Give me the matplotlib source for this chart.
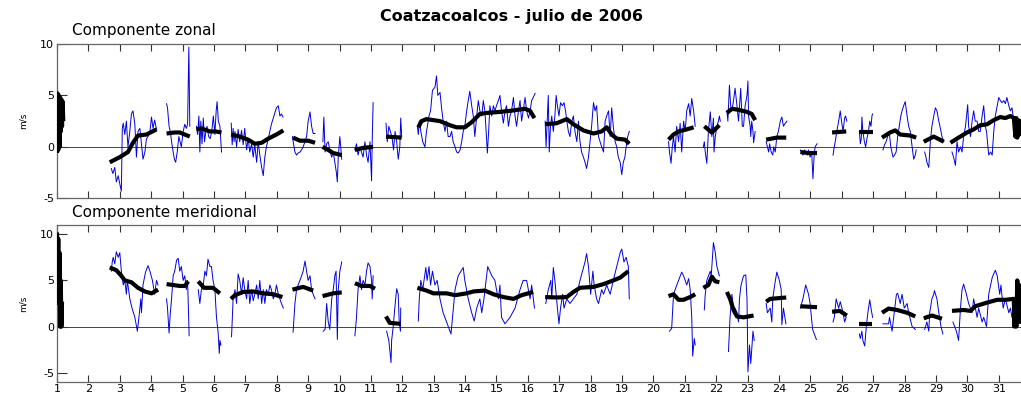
import matplotlib
matplotlib.use("Agg")
import matplotlib.pyplot as plt

plt.rcParams['font.family'] = ['DejaVu Sans']
plt.rcParams['axes.unicode_minus'] = False

title = "Coatzacoalcos - julio de 2006"
panel_titles = ["Componente zonal", "Componente meridional"]
day_ticks = list(range(1, 32))

# zonal component (u), hourly record, one list pair per uninterrupted stretch
u_days = [
    [2.73, 2.78, 2.84, 2.89, 2.95, 3.00, 3.05, 3.08, 3.11, 3.16, 3.21, 3.26, 3.32, 3.37, 3.42, 3.48, 3.53, 3.58, 3.64, 3.69, 3.74, 3.80, 3.85, 3.90, 3.96, 4.01, 4.06, 4.11, 4.17],
    [4.49, 4.52, 4.57, 4.61, 4.65, 4.70, 4.74, 4.78, 4.83, 4.88, 4.92, 4.96, 5.02, 5.07, 5.12, 5.16, 5.20, 5.23],
    [5.44, 5.48, 5.52, 5.55, 5.58, 5.62, 5.66, 5.70, 5.74, 5.78, 5.83, 5.88, 5.93, 5.98, 6.03, 6.07, 6.10, 6.14, 6.19, 6.24],
    [6.55, 6.58, 6.61, 6.64, 6.67, 6.72, 6.77, 6.82, 6.88, 6.93, 6.98, 7.04, 7.09, 7.14, 7.20, 7.25, 7.30, 7.36, 7.41, 7.46, 7.52, 7.57, 7.62, 7.67, 7.73, 7.78, 7.83, 7.89, 7.94, 7.99, 8.05, 8.10, 8.15, 8.20],
    [8.50, 8.54, 8.58, 8.63, 8.68, 8.74, 8.79, 8.84, 8.90, 8.95, 9.00, 9.06, 9.11, 9.16, 9.22],
    [9.47, 9.50, 9.54, 9.59, 9.64, 9.69, 9.75, 9.80, 9.85, 9.90, 9.93, 9.96, 10.01, 10.07],
    [10.49, 10.54, 10.59, 10.65, 10.70, 10.75, 10.81, 10.86, 10.91, 10.97, 11.02, 11.04, 11.07],
    [11.48, 11.52, 11.57, 11.62, 11.67, 11.72, 11.77, 11.82, 11.87, 11.92, 11.95, 11.98],
    [12.48, 12.51, 12.54, 12.59, 12.65, 12.72, 12.77, 12.85, 12.90, 12.96, 13.04, 13.09, 13.13, 13.20, 13.25, 13.30, 13.36, 13.41, 13.46, 13.52, 13.57, 13.62, 13.68, 13.73, 13.78, 13.84, 13.89, 13.94, 13.99, 14.05, 14.10, 14.15, 14.21, 14.26, 14.31, 14.37, 14.42, 14.47, 14.53, 14.58, 14.63, 14.67, 14.71, 14.75, 14.79, 14.85, 14.90, 14.95, 15.00, 15.06, 15.11, 15.16, 15.22, 15.27, 15.32, 15.38, 15.43, 15.48, 15.54, 15.59, 15.64, 15.70, 15.75, 15.80, 15.85, 15.91, 15.96, 16.02, 16.07, 16.12, 16.17, 16.23],
    [16.55, 16.58, 16.60, 16.65, 16.68, 16.72, 16.76, 16.81, 16.86, 16.90, 16.94, 16.99, 17.04, 17.10, 17.15, 17.20, 17.24, 17.29, 17.34, 17.40, 17.45, 17.50, 17.56, 17.61, 17.66, 17.71, 17.77, 17.82, 17.87, 17.93, 17.98, 18.03, 18.09, 18.14, 18.19, 18.25, 18.30, 18.35, 18.41, 18.46, 18.51, 18.57, 18.62, 18.67, 18.72, 18.78, 18.83, 18.88, 18.94, 18.99, 19.04, 19.09, 19.13, 19.18, 19.23],
    [20.48, 20.51, 20.56, 20.60, 20.64, 20.69, 20.74, 20.80, 20.85, 20.90, 20.96, 21.01, 21.06, 21.12, 21.17, 21.22, 21.28, 21.33],
    [21.59, 21.62, 21.65, 21.70, 21.75, 21.81, 21.84, 21.86, 21.91, 21.93, 21.97, 22.02, 22.07, 22.10, 22.13],
    [22.34, 22.37, 22.42, 22.46, 22.50, 22.55, 22.60, 22.66, 22.71, 22.78, 22.83, 22.87, 22.92, 22.98, 23.01, 23.03, 23.08, 23.10, 23.13, 23.17, 23.19, 23.24],
    [23.59, 23.63, 23.67, 23.70, 23.75, 23.80, 23.83, 23.88, 23.93, 23.98, 24.04, 24.09, 24.14, 24.20, 24.25],
    [24.68, 24.72, 24.76, 24.81, 24.85, 24.90, 24.94, 24.99, 25.04, 25.08, 25.12, 25.15, 25.21],
    [25.72, 25.76, 25.79, 25.84, 25.90, 25.95, 25.99, 26.04, 26.09, 26.12, 26.16],
    [26.56, 26.59, 26.62, 26.64, 26.67, 26.72, 26.76, 26.80, 26.85, 26.89, 26.93, 26.96, 26.98],
    [27.31, 27.36, 27.41, 27.46, 27.51, 27.56, 27.63, 27.68, 27.73, 27.78, 27.83, 27.88, 27.92, 27.97, 28.02, 28.08, 28.13, 28.18, 28.24, 28.29, 28.34, 28.37],
    [28.64, 28.68, 28.71, 28.77, 28.80, 28.82, 28.87, 28.93, 28.98, 29.03, 29.09, 29.14, 29.19, 29.25],
    [29.51, 29.56, 29.62, 29.67, 29.72, 29.78, 29.83, 29.88, 29.94, 30.01, 30.04, 30.10, 30.15, 30.20, 30.25, 30.31, 30.36, 30.41, 30.47, 30.52, 30.57, 30.61, 30.68, 30.74, 30.79, 30.84, 30.89, 30.95, 31.00, 31.05, 31.10, 31.16, 31.21, 31.26, 31.32, 31.37, 31.42, 31.48, 31.53],
]
u_vals = [
    [-2.1, -2.6, -2.0, -3.4, -2.8, -3.6, -4.3, 1.8, 2.3, 1.2, 2.5, 0.0, 1.5, 3.2, 3.5, 2.2, -1.0, 1.5, 1.8, 0.3, -1.2, -0.5, 0.8, 1.0, 1.5, 2.9, 1.8, 2.6, 1.7],
    [4.2, 3.8, 2.0, 1.5, 0.5, -0.5, -1.2, -1.5, -0.5, 1.0, 0.5, 0.0, 1.5, 2.2, 1.8, 2.2, 9.7, 2.0],
    [2.0, 1.2, 3.0, -0.5, 2.5, 0.3, 2.8, 0.5, 1.5, 2.0, 1.0, 0.8, 1.5, 3.0, 1.2, 3.5, 4.4, 2.5, 2.0, -0.5],
    [2.3, 0.2, 1.8, 0.5, 1.5, 0.0, 1.7, 0.5, 1.6, 0.2, 1.8, -0.3, 0.8, -0.5, 0.3, -1.0, 0.2, -1.5, 0.5, -0.8, -2.0, -2.8, -1.0, 0.0, 0.8, 1.5, 2.2, 2.8, 3.3, 3.8, 4.0, 3.0, 3.2, 2.9],
    [1.0, 0.2, -0.5, -0.8, -0.6, -0.5, -0.3, 0.0, 0.5, 1.0, 2.5, 3.4, 2.0, 1.3, 1.3],
    [0.5, 2.9, -0.5, 0.3, 0.5, -0.3, -1.0, -0.5, -1.5, -2.5, -3.4, -1.0, 1.0, -1.2],
    [-0.3, 0.3, -0.8, 0.0, -0.5, -1.0, 0.5, -0.8, -1.5, 0.5, -3.3, 0.5, 4.3],
    [2.3, 0.5, 2.0, 1.5, 1.0, -0.3, 1.5, 0.5, -1.2, 0.0, 2.8, 1.0],
    [2.0, 1.2, 2.5, 1.5, 0.5, 0.0, 1.5, 3.0, 3.5, 5.5, 5.8, 6.9, 5.0, 5.3, 3.8, 2.5, 1.5, 2.5, 1.0, 1.0, 1.5, 0.5, 0.0, -0.5, -0.6, -0.3, 0.5, 1.5, 2.0, 3.5, 4.5, 5.4, 4.0, 3.0, 1.0, 3.0, 4.5, 3.5, 3.0, 4.5, 3.5, 1.5, -0.6, 1.5, 4.0, 3.0, 4.0, 3.5, 4.0, 4.5, 5.0, 3.5, 2.3, 3.5, 4.0, 2.0, 3.0, 3.5, 4.8, 3.0, 2.0, 3.5, 4.5, 2.5, 3.5, 4.8, 3.5, 2.8, 3.5, 4.5, 4.8, 5.2],
    [2.5, 0.0, 1.5, 5.0, -0.5, 2.0, 3.0, 1.5, 3.0, 5.0, 4.0, 3.0, 4.3, 4.0, 4.3, 3.5, 2.5, 1.5, 1.0, 2.5, 3.0, 1.5, 0.5, 2.5, 0.5, -0.5, -1.0, -1.5, -2.1, -1.0, 0.5, 2.0, 4.3, 3.5, 4.0, 1.0, 0.5, 0.0, -0.5, 2.5, 3.0, 3.5, 1.0, 3.8, 2.0, 0.5, 0.0, -1.0, -1.5, -2.7, -1.5, -1.0, 0.0, 1.0, 1.5],
    [0.5, -0.5, -1.6, 0.0, 1.0, -0.5, 2.0, 0.5, 2.3, -0.5, 2.5, 1.5, 3.5, 4.2, 3.0, 4.7, 3.5, 2.0],
    [0.0, 0.5, -0.5, -1.6, 1.5, 3.4, 2.0, 1.0, 2.8, -0.5, 1.0, 2.0, 2.5, 3.0, 2.5],
    [3.5, 2.5, 6.0, 4.0, 3.5, 4.5, 5.7, 4.0, 2.5, 5.7, 2.0, 2.0, 4.0, 5.0, 6.4, 3.0, 2.0, 1.0, 2.5, 1.5, 0.4, 1.5],
    [0.5, 0.0, -0.5, 0.3, -0.5, -0.8, 0.0, -0.5, 1.0, 1.5, 2.5, 2.9, 2.0, 2.3, 2.5],
    [-0.3, -0.5, -0.8, -0.3, -0.5, -0.8, -0.3, -1.0, -0.5, -3.1, -0.8, 0.0, 0.3],
    [-0.8, 0.0, 0.5, 1.5, 2.5, 3.5, 2.5, 1.5, 2.8, 3.0, 2.5],
    [1.5, 0.3, 0.8, 2.9, 1.5, 0.5, 0.0, 0.8, 1.5, 2.5, 2.0, 3.0, 3.2],
    [-0.3, 0.2, 0.5, 1.0, 1.5, 0.0, -1.0, -0.8, -0.5, 1.0, 2.0, 3.0, 3.5, 4.0, 4.4, 3.0, 2.0, 1.5, 0.0, -1.2, -0.8, -0.3],
    [-0.5, -1.0, -1.5, -2.0, -0.5, 0.5, 2.0, 3.0, 3.8, 3.5, 2.5, 1.8, 1.0, 0.5],
    [-0.5, -1.0, -1.8, 0.5, -0.5, 0.0, -0.5, 1.0, 2.0, 4.1, 2.0, 1.0, 2.5, 3.5, 2.5, 2.5, 1.5, 1.5, 3.0, 4.0, 2.0, 1.5, -0.8, -0.5, -0.8, 1.5, 3.0, 4.0, 4.8, 4.5, 4.3, 4.5, 4.2, 4.8, 4.0, 3.5, 3.8, 2.5, 1.5],
]

# zonal component, smoothed
u_smooth_days = [
    [1.00, 1.02, 1.04, 1.06, 1.08, 1.10, 1.12, 1.14, 1.16, 1.18, 1.20],
    [2.68, 3.00, 3.26, 3.42, 3.58, 3.85, 4.17],
    [4.49, 4.75, 4.91, 5.07, 5.23],
    [5.44, 5.60, 5.87, 6.05, 6.24],
    [6.55, 6.82, 7.09, 7.30, 7.52, 7.73, 7.99, 8.21],
    [8.52, 8.74, 9.00, 9.22],
    [9.46, 9.64, 9.80, 10.07],
    [10.49, 10.75, 11.07],
    [11.48, 11.98],
    [12.51, 12.61, 12.77, 13.20, 13.52, 13.73, 13.99, 14.21, 14.47, 14.69, 15.11, 15.43, 15.91, 16.07, 16.21],
    [16.55, 16.92, 17.24, 17.45, 17.77, 18.09, 18.35, 18.51, 18.67, 18.83, 19.10, 19.23],
    [20.48, 20.64, 20.80, 21.06, 21.28],
    [21.62, 21.86, 22.10],
    [22.34, 22.50, 22.71, 22.98, 23.13, 23.24],
    [23.59, 23.93, 24.23],
    [24.68, 24.94, 25.21],
    [25.69, 26.14],
    [26.54, 26.98],
    [27.28, 27.54, 27.70, 27.86, 28.18, 28.37],
    [28.61, 28.93, 29.25],
    [29.46, 29.72, 29.99, 30.20, 30.41, 30.63, 30.84, 31.05, 31.21, 31.37, 31.48, 31.53, 31.56, 31.59, 31.62, 31.65, 31.68, 31.72],
]
u_smooth_vals = [
    [-0.6, 5.2, -0.3, 5.0, 0.0, 4.8, 1.5, 4.6, 2.0, 4.4, 2.5],
    [-1.5, -1.0, -0.5, 0.4, 1.1, 1.2, 1.7],
    [1.3, 1.4, 1.4, 1.2, 1.0],
    [1.7, 1.8, 1.5, 1.5, 1.4],
    [1.2, 1.0, 0.7, 0.3, 0.4, 0.8, 1.2, 1.6],
    [0.9, 0.6, 0.6, 0.4],
    [0.0, -0.3, -0.6, -0.8],
    [-0.3, -0.1, 0.0],
    [1.0, 0.9],
    [1.9, 2.5, 2.7, 2.5, 2.1, 1.9, 1.9, 2.4, 3.2, 3.3, 3.4, 3.5, 3.7, 3.5, 2.8],
    [2.2, 2.3, 2.7, 2.2, 1.6, 1.3, 1.5, 1.9, 1.2, 0.8, 0.7, 0.3],
    [0.7, 1.2, 1.5, 1.7, 1.9],
    [2.0, 1.4, 2.1],
    [3.3, 3.7, 3.6, 3.4, 3.2, 2.6],
    [0.7, 0.9, 0.9],
    [-0.5, -0.6, -0.6],
    [1.4, 1.5],
    [1.4, 1.4],
    [0.9, 1.4, 1.6, 1.2, 1.1, 0.9],
    [0.5, 1.0, 0.5],
    [0.4, 0.9, 1.4, 1.7, 2.1, 2.2, 2.6, 2.9, 2.8, 3.0, 2.8, 1.0, 2.8, 0.9, 2.6, 1.2, 2.5, 1.5],
]

# meridional component (v), hourly record
v_days = [
    [2.73, 2.76, 2.79, 2.84, 2.89, 2.95, 3.00, 3.05, 3.11, 3.16, 3.21, 3.24, 3.32, 3.39, 3.48, 3.56, 3.61, 3.67, 3.69, 3.74, 3.82, 3.90, 3.96, 4.04, 4.11, 4.17, 4.22],
    [4.49, 4.52, 4.57, 4.61, 4.65, 4.70, 4.75, 4.81, 4.86, 4.91, 4.96, 5.02, 5.07, 5.12, 5.16, 5.21],
    [5.50, 5.55, 5.60, 5.66, 5.71, 5.76, 5.81, 5.87, 5.92, 5.97, 6.03, 6.08, 6.13, 6.17, 6.19, 6.22],
    [6.56, 6.61, 6.67, 6.72, 6.77, 6.82, 6.88, 6.93, 6.98, 7.04, 7.09, 7.14, 7.20, 7.25, 7.30, 7.36, 7.41, 7.46, 7.52, 7.57, 7.62, 7.67, 7.73, 7.78, 7.83, 7.89, 7.94, 7.99, 8.05, 8.10, 8.15, 8.21],
    [8.52, 8.58, 8.63, 8.68, 8.74, 8.79, 8.84, 8.90, 8.95, 9.00, 9.06, 9.11, 9.16, 9.22],
    [9.48, 9.54, 9.59, 9.64, 9.69, 9.75, 9.80, 9.85, 9.89, 9.93, 9.96, 10.01, 10.07],
    [10.49, 10.54, 10.59, 10.65, 10.70, 10.75, 10.81, 10.86, 10.91, 10.97, 11.02, 11.04, 11.07],
    [11.50, 11.57, 11.60, 11.64, 11.66, 11.71, 11.76, 11.82, 11.87, 11.90, 11.94, 11.95],
    [12.51, 12.54, 12.59, 12.65, 12.75, 12.79, 12.85, 12.90, 12.96, 13.04, 13.11, 13.20, 13.30, 13.41, 13.55, 13.60, 13.68, 13.78, 13.94, 13.99, 14.10, 14.21, 14.29, 14.37, 14.47, 14.53, 14.60, 14.72, 14.85, 14.95, 15.00, 15.06, 15.11, 15.16, 15.27, 15.43, 15.59, 15.75, 15.85, 15.96, 16.07, 16.12, 16.21],
    [16.57, 16.65, 16.73, 16.76, 16.81, 16.86, 16.94, 16.99, 17.04, 17.11, 17.15, 17.24, 17.34, 17.45, 17.56, 17.66, 17.82, 17.87, 17.93, 18.00, 18.07, 18.11, 18.19, 18.25, 18.35, 18.41, 18.51, 18.62, 18.72, 18.83, 18.94, 18.99, 19.06, 19.13, 19.20, 19.23],
    [20.51, 20.58, 20.64, 20.69, 20.80, 20.90, 20.96, 21.06, 21.12, 21.17, 21.22, 21.25, 21.30, 21.33],
    [21.62, 21.65, 21.70, 21.81, 21.84, 21.88, 21.91, 21.97, 22.02, 22.10],
    [22.39, 22.44, 22.50, 22.55, 22.60, 22.66, 22.71, 22.74, 22.79, 22.87, 22.94, 22.98, 23.01, 23.06, 23.10, 23.17, 23.21],
    [23.59, 23.63, 23.72, 23.77, 23.80, 23.86, 23.93, 24.01, 24.07, 24.09, 24.14, 24.22],
    [24.68, 24.76, 24.85, 24.94, 24.99, 25.07, 25.19],
    [25.72, 25.76, 25.82, 25.90, 25.95, 26.04, 26.09, 26.14],
    [26.56, 26.59, 26.64, 26.67, 26.73, 26.78, 26.83, 26.89, 26.93, 26.98],
    [27.31, 27.49, 27.52, 27.60, 27.74, 27.78, 27.86, 27.92, 27.99, 28.08, 28.13, 28.24, 28.34],
    [28.64, 28.71, 28.77, 28.80, 28.87, 28.93, 28.95, 29.03, 29.09, 29.16, 29.22],
    [29.54, 29.65, 29.72, 29.78, 29.83, 29.88, 29.97, 30.04, 30.15, 30.20, 30.31, 30.36, 30.47, 30.52, 30.61, 30.68, 30.79, 30.89, 30.95, 31.03, 31.07, 31.14, 31.21, 31.32, 31.37, 31.42, 31.48],
]
v_vals = [
    [6.0, 7.0, 7.5, 6.8, 8.1, 7.5, 8.0, 6.0, 4.5, 5.0, 3.5, 5.0, 3.0, 2.0, 1.0, -0.5, 1.0, 3.0, 1.5, 4.5, 5.9, 6.6, 6.0, 5.0, 3.5, 5.0, 4.5],
    [3.0, 2.0, -0.7, 1.5, 3.0, 5.5, 6.0, 7.2, 7.4, 6.0, 6.5, 5.0, 5.5, 4.0, 5.0, -1.0],
    [4.0, 2.5, 4.0, 4.5, 6.0, 5.5, 7.3, 6.5, 6.5, 5.0, 4.0, 1.0, -0.5, -2.9, -1.5, -2.0],
    [-1.1, 3.0, 4.0, 2.5, 5.7, 5.0, 3.5, 5.3, 4.0, 3.0, 5.0, 2.5, 4.0, 2.8, 3.5, 4.5, 3.0, 5.0, 2.5, 4.0, 2.5, 4.0, 3.5, 4.5, 4.0, 3.0, 3.5, 4.5, 3.5, 3.0, 2.5, 2.0],
    [-0.6, 2.5, 4.0, 4.5, 5.0, 5.5, 6.0, 7.1, 6.0, 5.0, 5.5, 4.0, 3.5, 3.0],
    [-0.5, -0.3, 2.5, 0.5, -0.3, 3.0, 4.0, 5.5, 6.0, -1.4, 4.0, 6.0, 7.0],
    [-1.0, 1.0, 4.0, 5.5, 4.0, 5.0, 4.5, 6.0, 6.9, 6.5, 5.0, 3.0, 5.5],
    [-0.5, -1.5, -2.5, -3.9, -1.5, 0.0, 2.0, 4.1, 3.5, 0.5, -0.5, 2.0],
    [0.6, 3.0, 5.0, 4.0, 6.4, 5.0, 6.5, 4.5, 6.0, 4.5, 5.0, 3.0, 1.5, 0.5, -0.8, 1.0, 4.0, 5.5, 6.4, 5.0, 3.0, 1.5, 0.6, 2.0, 3.0, 1.5, 3.0, 6.5, 5.5, 5.0, 4.0, 3.0, 4.5, 1.0, 0.3, 1.0, 2.0, 4.0, 5.0, 5.0, 3.0, 4.5, 2.0],
    [2.5, 4.0, 5.0, 3.0, 6.4, 5.0, 2.0, 0.3, 2.0, 3.5, 2.0, 3.0, 2.5, 3.0, 3.5, 5.0, 7.0, 7.9, 6.5, 3.5, 6.0, 4.5, 3.0, 2.5, 4.0, 3.5, 4.5, 3.5, 5.0, 6.5, 8.0, 8.4, 7.0, 7.5, 6.5, 3.0],
    [-0.5, -0.2, 3.5, 4.0, 5.0, 5.9, 5.5, 4.5, 5.2, 4.0, 1.0, -3.2, -1.3, -2.0],
    [1.8, 3.5, 5.0, 6.0, 5.5, 7.5, 9.1, 8.0, 6.5, 5.5],
    [-2.7, 1.0, 3.5, 2.0, 2.0, 1.5, 0.5, 3.0, 4.5, 5.5, 5.6, 3.0, -4.9, -2.0, -4.0, -0.5, -1.5],
    [2.5, 1.5, 2.0, 0.5, 3.0, 4.5, 5.9, 5.0, 4.0, 0.2, 2.0, 0.3],
    [2.0, 3.0, 4.5, 3.5, 2.5, -0.3, -1.4],
    [0.5, 1.0, 3.0, 2.0, 2.7, 1.5, 0.5, 1.0],
    [-0.8, -1.3, -0.5, -1.5, -2.1, 0.0, 1.5, 2.9, 2.0, 1.0],
    [0.3, 0.3, 1.0, -0.5, 3.5, 3.6, 2.5, 3.5, 2.0, 2.5, 1.5, 0.0, -0.3],
    [-0.3, 0.5, -0.5, 1.5, 3.0, 3.5, 3.9, 3.0, 1.5, 0.0, -0.8],
    [0.5, -0.5, -1.5, 2.0, 4.0, 4.6, 3.5, 2.5, 1.5, 3.0, 1.0, 2.0, 0.5, 1.0, 0.0, 3.5, 5.3, 6.1, 5.5, 3.5, 4.5, 2.0, 3.0, 1.5, 2.0, 1.0, 1.5],
]

# meridional component, smoothed
v_smooth_days = [
    [1.00, 1.02, 1.04, 1.06, 1.08, 1.10, 1.12, 1.14, 1.16],
    [2.68, 2.89, 3.05, 3.16, 3.37, 3.58, 3.80, 4.01, 4.22],
    [4.49, 4.91, 5.07, 5.18],
    [5.50, 5.68, 5.97, 6.19],
    [6.54, 6.67, 6.93, 7.25, 7.57, 7.89, 8.18],
    [8.50, 8.84, 9.16],
    [9.46, 9.80, 10.07],
    [10.49, 10.70, 10.97, 11.13],
    [11.48, 11.60, 11.94],
    [12.48, 12.77, 12.99, 13.41, 13.68, 14.05, 14.26, 14.63, 14.90, 15.22, 15.54, 15.80, 16.17],
    [16.55, 16.92, 17.24, 17.45, 17.66, 18.09, 18.41, 18.72, 18.94, 19.20],
    [20.48, 20.64, 20.80, 20.96, 21.17, 21.33],
    [21.59, 21.75, 21.86, 21.97, 22.10],
    [22.34, 22.44, 22.55, 22.66, 22.87, 23.19],
    [23.59, 23.72, 24.23],
    [24.68, 25.21],
    [25.69, 25.93, 26.16],
    [26.54, 26.96],
    [27.28, 27.49, 27.76, 28.08, 28.34],
    [28.61, 28.87, 29.19],
    [29.51, 29.88, 30.10, 30.25, 30.63, 30.95, 31.21, 31.48, 31.50, 31.53, 31.56, 31.59, 31.62, 31.65, 31.68, 31.72],
]
v_smooth_vals = [
    [10.2, 3.0, 9.5, 2.5, 8.0, 0.0, 5.0, 0.0, 2.7],
    [6.4, 6.1, 5.5, 5.0, 4.8, 4.2, 3.8, 3.6, 4.0],
    [4.6, 4.4, 4.4, 4.9],
    [4.9, 4.2, 4.2, 3.6],
    [3.0, 3.4, 3.75, 3.8, 3.6, 3.5, 3.2],
    [4.0, 4.3, 3.9],
    [3.3, 3.6, 3.7],
    [4.7, 4.4, 4.4, 4.1],
    [1.1, 0.4, 0.3],
    [4.2, 3.9, 3.6, 3.6, 3.4, 3.6, 3.8, 3.9, 3.5, 3.2, 3.0, 3.4, 3.75],
    [3.2, 3.15, 3.2, 3.75, 4.2, 4.3, 4.6, 5.0, 5.3, 6.0],
    [3.3, 3.5, 2.9, 2.9, 3.2, 3.5],
    [4.2, 4.5, 5.4, 4.9, 4.8],
    [3.75, 3.0, 1.8, 1.1, 1.0, 1.2],
    [2.7, 3.0, 3.15],
    [2.2, 2.1],
    [1.6, 1.7, 1.2],
    [0.3, 0.3],
    [1.5, 1.95, 1.8, 1.5, 1.1],
    [0.9, 1.2, 0.85],
    [1.7, 1.8, 1.7, 2.2, 2.6, 2.9, 2.9, 3.0, 0.0, 3.0, 0.0, 5.0, 1.0, 4.5, 0.5, 3.5],
]

fig = plt.figure(figsize=(10.21, 3.95), dpi=100)
ax_u = fig.add_axes([57 / 1021, 1 - 198.3 / 395, 965 / 1021, 154.3 / 395])
ax_v = fig.add_axes([57 / 1021, 1 - 382 / 395, 965 / 1021, 157 / 395])

panels = [
    (ax_u, u_days, u_vals, u_smooth_days, u_smooth_vals, (-5, 10)),
    (ax_v, v_days, v_vals, v_smooth_days, v_smooth_vals, (-6, 11)),
]

for ax, days, vals, sdays, svals, ylim in panels:
    ax.axhline(0, color="#444444", lw=0.7, zorder=1)
    for d, v in zip(days, vals):
        ax.plot(d, v, color="#0000dd", lw=0.7, zorder=2)
    for d, v in zip(sdays, svals):
        ax.plot(d, v, color="black", lw=3.0, zorder=3, solid_capstyle="butt")
    ax.set_xlim(1, 31.74)
    ax.set_ylim(*ylim)
    ax.set_yticks([-5, 0, 5, 10])
    ax.set_xticks(day_ticks)
    ax.tick_params(direction="in", length=5, width=0.8, color="#333333",
                   top=True, right=False, labelsize=8, pad=2)
    ax.tick_params(axis="x", pad=1.5)
    ax.tick_params(axis="y", length=7)
    ax.spines["right"].set_visible(False)
    for s in ["left", "top", "bottom"]:
        ax.spines[s].set_color("#666666")
        ax.spines[s].set_linewidth(0.9)
    ax.set_ylabel("m/s", fontsize=6.5, labelpad=9)

ax_u.set_xticklabels([])
ax_v.set_xticklabels([str(d) for d in day_ticks])

fig.text(511 / 1021, 1 - 16 / 395, title, ha="center", va="center",
         fontsize=11.5, fontweight="bold")
fig.text(72 / 1021, 1 - 30 / 395, panel_titles[0], ha="left", va="center", fontsize=11)
fig.text(72 / 1021, 1 - 213 / 395, panel_titles[1], ha="left", va="center", fontsize=11)

fig.savefig("out.png", dpi=100)
